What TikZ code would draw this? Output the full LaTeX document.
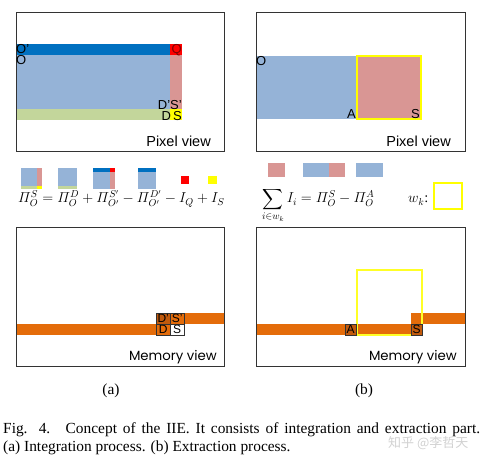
\documentclass[tikz,border=0pt]{standalone}
\usepackage{amsmath}
\usepackage{fontspec}
\setmainfont{Liberation Serif}
\setsansfont{Liberation Sans}
\newfontfamily\memfont{Poppins}
\newfontfamily\cjk{Noto Sans CJK SC}
\definecolor{dblue}{HTML}{0070C0}
\definecolor{lblue}{HTML}{95B3D7}
\definecolor{pinkc}{HTML}{D99694}
\definecolor{greenc}{HTML}{C3D69B}
\definecolor{redc}{HTML}{FF0000}
\definecolor{yelc}{HTML}{FFFF00}
\definecolor{orc}{HTML}{E46C0A}
\definecolor{dorc}{HTML}{C25A0C}
\definecolor{frame}{HTML}{333333}
\tikzset{
  panel/.style={draw=frame, line width=1pt},
  lbl/.style={font=\sffamily\fontsize{13}{13}\selectfont, inner sep=0pt},
  viewtxt/.style={font=\sffamily\fontsize{14.5}{14.5}\selectfont, inner sep=0pt, anchor=base east},
  memtxt/.style={font=\memfont\fontsize{13.3}{13.3}\selectfont, inner sep=0pt, anchor=base east},
  membox/.style={draw=black!80, line width=0.5pt, inner sep=0pt, minimum width=14pt, minimum height=11pt, font=\sffamily\fontsize{12}{12}\selectfont},
  eqtxt/.style={inner sep=0pt, font=\fontsize{14.5}{14.5}\selectfont},
  captxt/.style={inner sep=0pt, font=\fontsize{15.4}{15.4}\selectfont}
}
\begin{document}
\begin{tikzpicture}[x=1pt,y=-1pt]
\useasboundingbox (0,0) rectangle (491,465);
% ---------- (a) pixel view ----------
\fill[lblue] (16,55) rectangle (170,109);
\fill[dblue] (16,44) rectangle (170,55);
\fill[redc] (170,44) rectangle (182,55);
\fill[pinkc] (170,55) rectangle (182,109);
\fill[greenc] (16,109) rectangle (170,120);
\fill[yelc] (170,109) rectangle (182,120);
\draw[panel] (16,13) rectangle (224,152);
\node[lbl, anchor=north west] (oprime) at (16,44.5) {O'};
\node[lbl, anchor=north west] (oa) at (16,55.5) {O};
\node[lbl, anchor=north east, text=red!50!black] (qa) at (182,44.5) {Q};
\node[lbl, anchor=south east] (dsp) at (182,109.5) {D'S'};
\node[lbl, anchor=south east] (dsa) at (182,120.5) {D\,S};
\node[viewtxt] (pva) at (211,147) {Pixel view};
% ---------- (b) pixel view ----------
\fill[lblue] (256,56) rectangle (357,119);
\fill[pinkc] (357,56) rectangle (421,119);
\draw[yelc, line width=1.5pt] (357,56) rectangle (421,119);
\draw[panel] (256,13) rectangle (465,152);
\node[lbl, anchor=north west] (ob) at (256,56.5) {O};
\node[lbl, anchor=south east] (ab) at (356,119) {A};
\node[lbl, anchor=south east] (sb) at (420,119) {S};
\node[viewtxt] (pvb) at (451,147) {Pixel view};
% ---------- (a) equation icons ----------
\fill[lblue] (21,168) rectangle (42,189);
\fill[pinkc] (37,168) rectangle (42,186);
\fill[greenc] (21,186) rectangle (37,189);
\fill[yelc] (37,186) rectangle (42,189);
\fill[lblue] (58,168) rectangle (77,189);
\fill[greenc] (58,186) rectangle (77,189);
\fill[lblue] (93,168) rectangle (115,189);
\fill[dblue] (93,168) rectangle (110,172);
\fill[redc] (110,168) rectangle (115,172);
\fill[pinkc] (110,172) rectangle (115,189);
\fill[lblue] (138,168) rectangle (156,189);
\fill[dblue] (138,168) rectangle (156,172);
\fill[redc] (181,176) rectangle (189,184);
\fill[yelc] (208,176) rectangle (217,184);
\node[eqtxt, anchor=base west] (eqa) at (18,203) {$\varPi_O^S=\varPi_O^D+\varPi_{O'}^{S'}-\varPi_{O'}^{D'}-I_Q+I_S$};
% ---------- (b) equation icons ----------
\fill[pinkc] (268,163) rectangle (285,177);
\fill[lblue] (303,163) rectangle (329,177);
\fill[pinkc] (329,163) rectangle (345,177);
\fill[lblue] (356,163) rectangle (383,177);
\node[eqtxt, anchor=base west] (eqb) at (262,203) {$\displaystyle\sum_{i\in w_k} I_i=\varPi_O^S-\varPi_O^A$};
\node[eqtxt, anchor=base west] (wk) at (408,203) {$w_k$:};
\draw[yelc, line width=1.5pt] (434,183) rectangle (462,209);
% ---------- (a) memory view ----------
\fill[orc] (16,324) rectangle (156,335);
\fill[orc] (184,313) rectangle (224,324);
\draw[panel] (16,228) rectangle (224,367);
\node[membox, fill=dorc, anchor=north west] (mdp) at (156,313) {D'};
\node[membox, fill=orc, anchor=north west] (msp) at (170,313) {S'};
\node[membox, fill=orc, anchor=north west] (md) at (156,324) {D};
\node[membox, fill=white, anchor=north west] (ms) at (170,324) {S};
\node[memtxt] (mva) at (217,361) {Memory view};
% ---------- (b) memory view ----------
\fill[orc] (256,324) rectangle (422,335);
\fill[orc] (411,313) rectangle (465,324);
\draw[yelc!85!white, line width=1.3pt] (357,335) -- (357,270) -- (422,270) -- (422,335) -- cycle;
\draw[panel] (256,228) rectangle (465,367);
\node[membox, fill=dorc, minimum width=11pt, anchor=north west] (mab) at (345,324) {A};
\node[membox, fill=dorc, minimum width=11pt, anchor=north west] (msb) at (411,324) {S};
\node[memtxt] (mvb) at (457,361) {Memory view};
% ---------- captions ----------
\node[captxt, anchor=base] (capa) at (111,395) {(a)};
\node[captxt, anchor=base] (capb) at (364,395) {(b)};
\node[captxt, anchor=base west] (cap1) at (3,434) {\makebox[477pt][s]{Fig. 4.\quad Concept of the IIE. It consists of integration and extraction part.}};
\node[captxt, anchor=base west] (cap2) at (3,452) {(a) Integration process. (b) Extraction process.};
\node[inner sep=0pt, anchor=base west, text=black!18, font=\cjk\fontsize{13}{13}\selectfont] (wm) at (388,448) {知乎 @李哲天};
\end{tikzpicture}
\end{document}
